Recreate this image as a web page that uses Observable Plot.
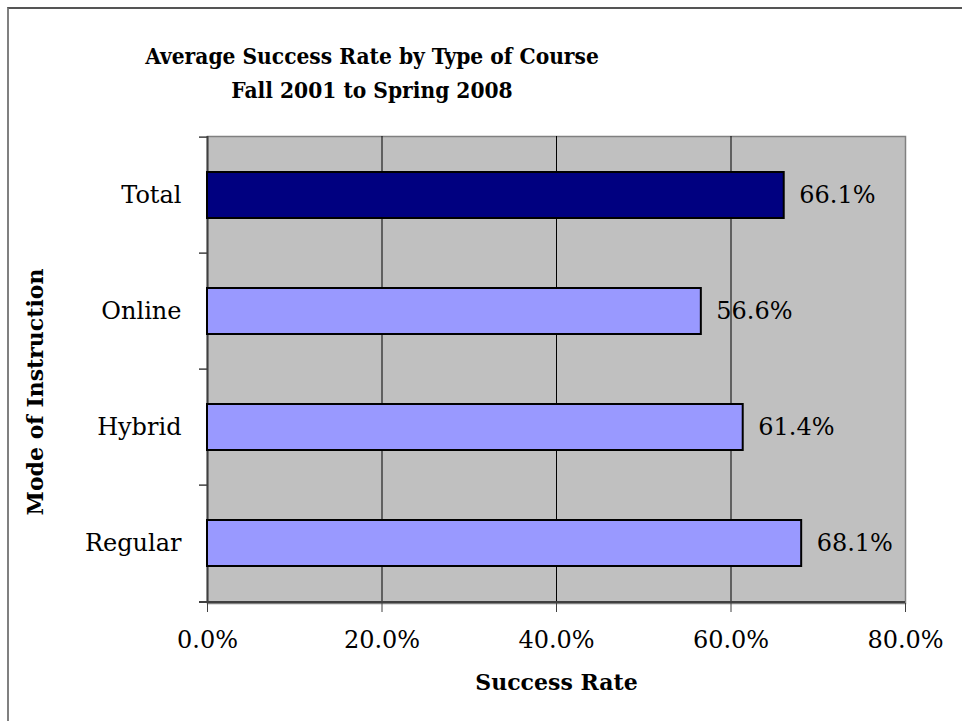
<!DOCTYPE html>
<html>
<head>
<meta charset="utf-8">
<script src="https://cdn.jsdelivr.net/npm/d3@7"></script>
<script src="https://cdn.jsdelivr.net/npm/@observablehq/plot@0.6"></script>
<style>
  html, body { margin: 0; padding: 0; background: #fff; }
  #page { position: relative; width: 962px; height: 721px; overflow: hidden; font-family: "DejaVu Serif", serif; }
  #border { position: absolute; left: 7px; top: 7px; width: 2000px; height: 2000px; border-left: 2px solid #808080; border-top: 2px solid #555; }
  #title { position: absolute; left: 0; top: 0; width: 744px; height: 110px; text-align: center; font-family: "DejaVu Serif Condensed", "DejaVu Serif", serif; font-weight: bold; font-size: 22.5px; line-height: 34px; padding-top: 39px; box-sizing: border-box; color: #000; }
  #ytitle { position: absolute; left: 35px; top: 392px; transform: translate(-50%, -50%) rotate(-90deg); white-space: nowrap; font-weight: bold; font-size: 22px; color: #000; }
  #chart { position: absolute; left: 0; top: 110px; }
</style>
</head>
<body>
<div id="page">
  <div id="border"></div>
  <div id="title">Average Success Rate by Type of Course<br>Fall 2001 to Spring 2008</div>
  <div id="chart"></div>
  <div id="ytitle"></div>
</div>
<script>
const categories = ["Total", "Online", "Hybrid", "Regular"];
const rates = [66.1, 56.6, 61.4, 68.1];
const barColors = ["#000080", "#9999FF", "#9999FF", "#9999FF"];
const xTicks = [0, 20, 40, 60, 80];
const xTitle = "Success Rate";
const yTitle = "Mode of Instruction";

document.getElementById("ytitle").textContent = yTitle;

const data = categories.map((c, i) => ({category: c, rate: rates[i], color: barColors[i]}));

const W = 962, H = 611, mL = 207, mR = 57, mT = 26, mB = 118;
const step = (H - mT - mB) / categories.length;
const font = "DejaVu Serif";

const plot = Plot.plot({
  width: W, height: H,
  marginLeft: mL, marginRight: mR, marginTop: mT, marginBottom: mB,
  style: {fontFamily: font, background: "transparent", color: "#000"},
  x: {domain: [0, 80]},
  y: {domain: categories, paddingInner: 0.6, paddingOuter: 0.3},
  marks: [
    Plot.frame({fill: "#C0C0C0", stroke: "#808080", strokeWidth: 1.5}),
    Plot.ruleX(xTicks.slice(1, -1), {stroke: "#000", strokeWidth: 1}),
    Plot.ruleX([0], {stroke: "#404040", strokeWidth: 2}),
    Plot.ruleY([categories[categories.length - 1]], {dy: step / 2, stroke: "#404040", strokeWidth: 2, insetLeft: -8}),
    Plot.ruleY(categories, {x1: 0, x2: 0, insetLeft: -8, dy: -step / 2, stroke: "#404040", strokeWidth: 1.5}),
    Plot.barX(data, {x: "rate", y: "category", fill: "color", stroke: "#000", strokeWidth: 2}),
    Plot.text(data, {x: "rate", y: "category", text: d => d.rate.toFixed(1) + "%", textAnchor: "start", dx: 15, fontSize: 24, fill: "#000"}),
    Plot.axisX({ticks: xTicks, tickSize: 9, tickPadding: 18, tickFormat: d => d.toFixed(1) + "%", fontSize: 24, label: null, stroke: "#404040"}),
    Plot.axisY({tickSize: 0, tickPadding: 26, fontSize: 24, label: null}),
    Plot.text([xTitle], {frameAnchor: "bottom", dy: 86, fontSize: 22, fontWeight: "bold", fill: "#000"})
  ]
});
document.getElementById("chart").appendChild(plot);
</script>
</body>
</html>
